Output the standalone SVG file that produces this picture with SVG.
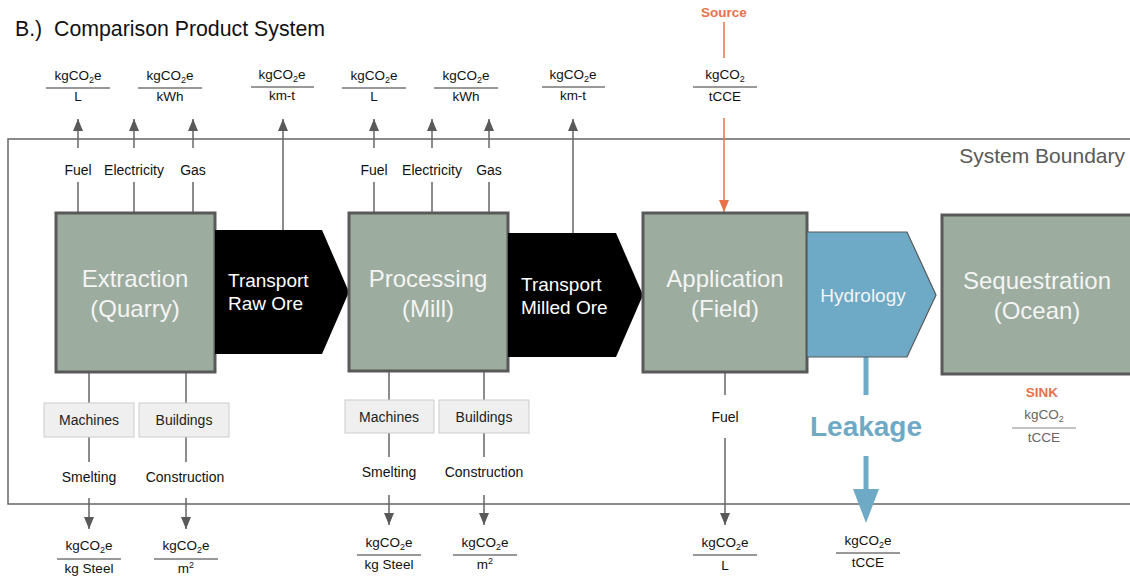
<svg xmlns="http://www.w3.org/2000/svg" width="1130" height="577" viewBox="0 0 1130 577">
  <style>
    text { font-family: "Liberation Sans", Arial, sans-serif; }
    .title { font-size: 21.3px; fill: #111; }
    .boundary-label { font-size: 21px; fill: #595959; text-anchor: end; }
    .stage { fill: #9cac9f; stroke: #595959; stroke-width: 3; }
    .stage-text { font-size: 24px; fill: #f4f4f4; text-anchor: middle; }
    .transport { fill: #000; }
    .transport-text { font-size: 19px; fill: #fff; }
    .hydro { fill: #6eaac6; stroke: #595959; stroke-width: 1.2; }
    .hydro-text { font-size: 19px; fill: #f4f4f4; text-anchor: middle; }
    .input { fill: #efefef; stroke: #cccccc; stroke-width: 1; }
    .input-text { font-size: 14px; fill: #222; text-anchor: middle; }
    .lbl { font-size: 14px; fill: #111; text-anchor: middle; }
    .frac { font-size: 13.5px; fill: #111; text-anchor: middle; }
    .frac-line { stroke: #333; stroke-width: 1; }
    .sink-frac { font-size: 13.5px; fill: #666; text-anchor: middle; }
    .sink-line { stroke: #888; stroke-width: 1; }
    .orange-lbl { font-size: 13.5px; font-weight: bold; fill: #e8714a; text-anchor: middle; }
    .wire { stroke: #666; stroke-width: 1.5; fill: none; }
    .wire-orange { stroke: #e8714a; stroke-width: 1.5; fill: none; }
    .leak { stroke: #6eaac6; stroke-width: 5; fill: none; }
    .leak-text { font-size: 28px; font-weight: bold; fill: #6eaac6; text-anchor: middle; }
  </style>
  <defs>
    <marker id="ah" viewBox="0 0 12 10" refX="12" refY="5" markerWidth="12" markerHeight="10" markerUnits="userSpaceOnUse" orient="auto">
      <path d="M0,0 L12,5 L0,10 z" fill="#595959"/>
    </marker>
    <marker id="ah-orange" viewBox="0 0 12 10" refX="12" refY="5" markerWidth="12" markerHeight="10" markerUnits="userSpaceOnUse" orient="auto">
      <path d="M0,0 L12,5 L0,10 z" fill="#e8714a"/>
    </marker>
  </defs>

  <rect width="1130" height="577" fill="#ffffff"/>

  <!-- heading -->
  <text class="title" x="15" y="36">B.)</text>
  <text class="title" x="54" y="36">Comparison Product System</text>

  <!-- system boundary frame, open past the right edge -->
  <g id="system-boundary">
    <path d="M1140,139 H8 V504 H1140" fill="none" stroke="#666" stroke-width="1.5"/>
    <text class="boundary-label" x="1125" y="163">System Boundary</text>
  </g>

  <!-- connectors -->
  <g id="connectors">
    <!-- extraction inputs -->
    <line class="wire" x1="78" y1="213" x2="78" y2="182"/>
    <line class="wire" x1="78" y1="148" x2="78" y2="119" marker-end="url(#ah)"/>
    <line class="wire" x1="134" y1="213" x2="134" y2="182"/>
    <line class="wire" x1="134" y1="148" x2="134" y2="119" marker-end="url(#ah)"/>
    <line class="wire" x1="193" y1="213" x2="193" y2="182"/>
    <line class="wire" x1="193" y1="148" x2="193" y2="119" marker-end="url(#ah)"/>
    <line class="wire" x1="283" y1="230" x2="283" y2="119" marker-end="url(#ah)"/>
    <!-- processing inputs -->
    <line class="wire" x1="374" y1="213" x2="374" y2="182"/>
    <line class="wire" x1="374" y1="148" x2="374" y2="119" marker-end="url(#ah)"/>
    <line class="wire" x1="432" y1="213" x2="432" y2="182"/>
    <line class="wire" x1="432" y1="148" x2="432" y2="119" marker-end="url(#ah)"/>
    <line class="wire" x1="489" y1="213" x2="489" y2="182"/>
    <line class="wire" x1="489" y1="148" x2="489" y2="119" marker-end="url(#ah)"/>
    <line class="wire" x1="573" y1="233" x2="573" y2="119" marker-end="url(#ah)"/>
    <!-- source into application -->
    <line class="wire-orange" x1="724" y1="22" x2="724" y2="58"/>
    <line class="wire-orange" x1="724" y1="118" x2="724" y2="212" marker-end="url(#ah-orange)"/>
    <!-- extraction embodied -->
    <line class="wire" x1="89" y1="372" x2="89" y2="403"/>
    <line class="wire" x1="89" y1="437" x2="89" y2="462"/>
    <line class="wire" x1="89" y1="498" x2="89" y2="529" marker-end="url(#ah)"/>
    <line class="wire" x1="186" y1="372" x2="186" y2="403"/>
    <line class="wire" x1="186" y1="437" x2="186" y2="462"/>
    <line class="wire" x1="186" y1="498" x2="186" y2="529" marker-end="url(#ah)"/>
    <!-- processing embodied -->
    <line class="wire" x1="389" y1="371" x2="389" y2="400"/>
    <line class="wire" x1="389" y1="433" x2="389" y2="457"/>
    <line class="wire" x1="389" y1="495" x2="389" y2="525" marker-end="url(#ah)"/>
    <line class="wire" x1="484" y1="371" x2="484" y2="400"/>
    <line class="wire" x1="484" y1="433" x2="484" y2="457"/>
    <line class="wire" x1="484" y1="495" x2="484" y2="525" marker-end="url(#ah)"/>
    <!-- application fuel -->
    <line class="wire" x1="725" y1="372" x2="725" y2="395"/>
    <line class="wire" x1="725" y1="438" x2="725" y2="525" marker-end="url(#ah)"/>
    <!-- leakage -->
    <line class="leak" x1="866" y1="357" x2="866" y2="395"/>
    <line class="leak" x1="866" y1="456" x2="866" y2="491"/>
    <polygon points="853,489 879,489 866,523" fill="#6eaac6"/>
  </g>

  <!-- input labels -->
  <g id="input-labels">
    <text class="lbl" x="78" y="175">Fuel</text>
    <text class="lbl" x="134" y="175">Electricity</text>
    <text class="lbl" x="193" y="175">Gas</text>
    <text class="lbl" x="374" y="175">Fuel</text>
    <text class="lbl" x="432" y="175">Electricity</text>
    <text class="lbl" x="489" y="175">Gas</text>
    <text class="orange-lbl" x="724" y="17">Source</text>
    <text class="lbl" x="89" y="482">Smelting</text>
    <text class="lbl" x="185" y="482">Construction</text>
    <text class="lbl" x="389" y="477">Smelting</text>
    <text class="lbl" x="484" y="477">Construction</text>
    <text class="lbl" x="725" y="422">Fuel</text>
    <text class="leak-text" x="866" y="436">Leakage</text>
  </g>

  <!-- emission factor fractions, top row -->
  <g id="factors-top">
    <text class="frac" x="78" y="80">kgCO<tspan font-size="9" dy="3">2</tspan><tspan dy="-3">e</tspan></text>
    <line class="frac-line" x1="46" y1="88" x2="110" y2="88"/>
    <text class="frac" x="78" y="101">L</text>

    <text class="frac" x="170" y="80">kgCO<tspan font-size="9" dy="3">2</tspan><tspan dy="-3">e</tspan></text>
    <line class="frac-line" x1="138" y1="88" x2="202" y2="88"/>
    <text class="frac" x="170" y="101">kWh</text>

    <text class="frac" x="282" y="79">kgCO<tspan font-size="9" dy="3">2</tspan><tspan dy="-3">e</tspan></text>
    <line class="frac-line" x1="251" y1="87" x2="314" y2="87"/>
    <text class="frac" x="282" y="100">km-t</text>

    <text class="frac" x="374" y="80">kgCO<tspan font-size="9" dy="3">2</tspan><tspan dy="-3">e</tspan></text>
    <line class="frac-line" x1="342" y1="88" x2="406" y2="88"/>
    <text class="frac" x="374" y="101">L</text>

    <text class="frac" x="466" y="80">kgCO<tspan font-size="9" dy="3">2</tspan><tspan dy="-3">e</tspan></text>
    <line class="frac-line" x1="434" y1="88" x2="498" y2="88"/>
    <text class="frac" x="466" y="101">kWh</text>

    <text class="frac" x="573" y="79">kgCO<tspan font-size="9" dy="3">2</tspan><tspan dy="-3">e</tspan></text>
    <line class="frac-line" x1="542" y1="87" x2="605" y2="87"/>
    <text class="frac" x="573" y="100">km-t</text>

    <text class="frac" x="725" y="79">kgCO<tspan font-size="9" dy="3">2</tspan></text>
    <line class="frac-line" x1="693" y1="87" x2="757" y2="87"/>
    <text class="frac" x="725" y="101">tCCE</text>
  </g>

  <!-- emission factor fractions, bottom row -->
  <g id="factors-bottom">
    <text class="frac" x="89" y="550">kgCO<tspan font-size="9" dy="3">2</tspan><tspan dy="-3">e</tspan></text>
    <line class="frac-line" x1="57" y1="559" x2="121" y2="559"/>
    <text class="frac" x="89" y="573">kg Steel</text>

    <text class="frac" x="186" y="550">kgCO<tspan font-size="9" dy="3">2</tspan><tspan dy="-3">e</tspan></text>
    <line class="frac-line" x1="154" y1="559" x2="218" y2="559"/>
    <text class="frac" x="186" y="573">m<tspan font-size="9" dy="-5">2</tspan></text>

    <text class="frac" x="389" y="547">kgCO<tspan font-size="9" dy="3">2</tspan><tspan dy="-3">e</tspan></text>
    <line class="frac-line" x1="357" y1="555" x2="421" y2="555"/>
    <text class="frac" x="389" y="569">kg Steel</text>

    <text class="frac" x="485" y="547">kgCO<tspan font-size="9" dy="3">2</tspan><tspan dy="-3">e</tspan></text>
    <line class="frac-line" x1="453" y1="555" x2="517" y2="555"/>
    <text class="frac" x="485" y="569">m<tspan font-size="9" dy="-5">2</tspan></text>

    <text class="frac" x="725" y="547">kgCO<tspan font-size="9" dy="3">2</tspan><tspan dy="-3">e</tspan></text>
    <line class="frac-line" x1="693" y1="555" x2="757" y2="555"/>
    <text class="frac" x="725" y="570">L</text>

    <text class="frac" x="868" y="545">kgCO<tspan font-size="9" dy="3">2</tspan><tspan dy="-3">e</tspan></text>
    <line class="frac-line" x1="836" y1="553" x2="900" y2="553"/>
    <text class="frac" x="868" y="567">tCCE</text>
  </g>

  <!-- sink factor -->
  <g id="sink">
    <text class="orange-lbl" x="1042" y="397">SINK</text>
    <text class="sink-frac" x="1044" y="419">kgCO<tspan font-size="9" dy="3">2</tspan></text>
    <line class="sink-line" x1="1012" y1="428" x2="1076" y2="428"/>
    <text class="sink-frac" x="1044" y="442">tCCE</text>
  </g>

  <!-- process stages -->
  <g id="extraction">
    <rect class="stage" x="56" y="213" width="159" height="159"/>
    <text class="stage-text" x="135" y="287">Extraction</text>
    <text class="stage-text" x="135" y="317">(Quarry)</text>
  </g>
  <g id="transport-raw-ore">
    <polygon class="transport" points="215,230 322,230 349,292 322,354 215,354"/>
    <text class="transport-text" x="228" y="287">Transport</text>
    <text class="transport-text" x="228" y="310">Raw Ore</text>
  </g>
  <g id="processing">
    <rect class="stage" x="349" y="213" width="159" height="158"/>
    <text class="stage-text" x="428" y="287">Processing</text>
    <text class="stage-text" x="428" y="317">(Mill)</text>
  </g>
  <g id="transport-milled-ore">
    <polygon class="transport" points="508,233 616,233 643,295 616,357 508,357"/>
    <text class="transport-text" x="521" y="291">Transport</text>
    <text class="transport-text" x="521" y="314">Milled Ore</text>
  </g>
  <g id="application">
    <rect class="stage" x="643" y="213" width="164" height="159"/>
    <text class="stage-text" x="725" y="287">Application</text>
    <text class="stage-text" x="725" y="317">(Field)</text>
  </g>
  <g id="hydrology">
    <polygon class="hydro" points="807,232 907,232 936,295 907,357 807,357"/>
    <text class="hydro-text" x="863" y="302">Hydrology</text>
  </g>
  <g id="sequestration">
    <rect class="stage" x="942" y="215" width="200" height="159"/>
    <text class="stage-text" x="1037" y="289">Sequestration</text>
    <text class="stage-text" x="1037" y="319">(Ocean)</text>
  </g>

  <!-- embodied inputs -->
  <g id="machines-extraction">
    <rect class="input" x="44" y="403" width="90" height="34"/>
    <text class="input-text" x="89" y="425">Machines</text>
  </g>
  <g id="buildings-extraction">
    <rect class="input" x="139" y="403" width="90" height="34"/>
    <text class="input-text" x="184" y="425">Buildings</text>
  </g>
  <g id="machines-processing">
    <rect class="input" x="345" y="400" width="89" height="33"/>
    <text class="input-text" x="389" y="422">Machines</text>
  </g>
  <g id="buildings-processing">
    <rect class="input" x="439" y="400" width="90" height="33"/>
    <text class="input-text" x="484" y="422">Buildings</text>
  </g>
</svg>
